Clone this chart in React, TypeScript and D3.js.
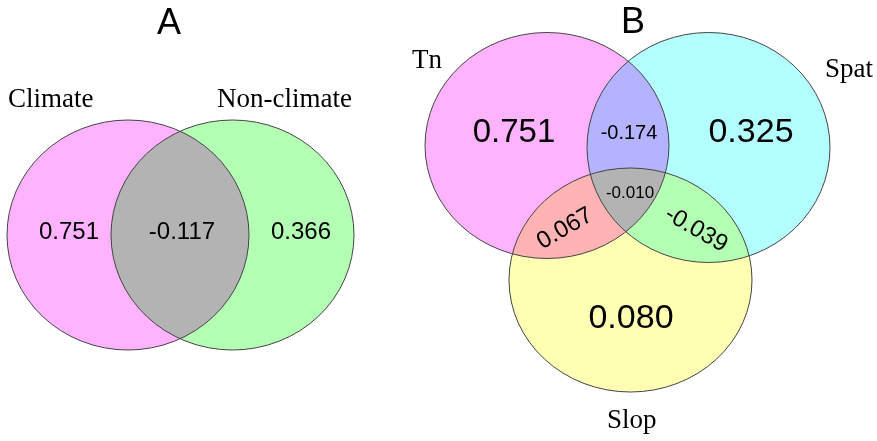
import React from "react";
import * as d3 from "d3";

// ---- data ----
const panelTitles = ["A", "B"];
const setsA = ["Climate", "Non-climate"];
const valuesA = [0.751, -0.117, 0.366]; // Climate only, both, Non-climate only
const setsB = ["Tn", "Spat", "Slop"];
const valuesB = [0.751, 0.325, 0.08, -0.174, 0.067, -0.039, -0.01]; // Tn, Spat, Slop, Tn∩Spat, Tn∩Slop, Spat∩Slop, all

// ---- layout (positions / styles) ----
const W = 877;
const H = 441;
const ellA = [
  { cx: 128, cy: 235, rx: 121, ry: 115, fill: "#ffb3ff" },
  { cx: 232.5, cy: 235, rx: 121.5, ry: 115, fill: "#b3ffb3" },
];
const ellB = [
  { cx: 547, cy: 145.5, rx: 122, ry: 113, fill: "#ffb3ff" },
  { cx: 708.5, cy: 147.5, rx: 121.5, ry: 115, fill: "#b3ffff" },
  { cx: 630.5, cy: 280, rx: 121.5, ry: 112, fill: "#ffffb3" },
];
const setLabelPosA = [
  { x: 8, y: 107 },
  { x: 217, y: 107 },
];
const setLabelPosB = [
  { x: 412, y: 68 },
  { x: 825, y: 77 },
  { x: 607, y: 428 },
];
const valPosA = [
  { x: 69, y: 239, size: 24, rot: 0, middle: false },
  { x: 182, y: 239, size: 24, rot: 0, middle: false },
  { x: 301, y: 239, size: 24, rot: 0, middle: false },
];
const valPosB = [
  { x: 514, y: 142, size: 33, rot: 0, middle: false },
  { x: 751, y: 142, size: 34, rot: 0, middle: false },
  { x: 631, y: 328, size: 34, rot: 0, middle: false },
  { x: 629, y: 139, size: 20, rot: 0, middle: false },
  { x: 564, y: 227, size: 24, rot: -30, middle: true },
  { x: 697, y: 228, size: 24, rot: 30, middle: true },
  { x: 630, y: 198, size: 17, rot: 0, middle: false },
];
const titlePos = [
  { x: 169, y: 34 },
  { x: 633, y: 33 },
];

const fmt3 = d3.format(".3f");
const fmt = (v: number) => fmt3(v).replace("\u2212", "-");
const SANS = "'Liberation Sans', Arial, sans-serif";
const SERIF = "'Liberation Serif', 'Times New Roman', serif";

function Ellipses({ ells }: { ells: typeof ellA }) {
  return (
    <g>
      <g style={{ isolation: "isolate" }}>
        {ells.map((e, i) => (
          <ellipse key={i} cx={e.cx} cy={e.cy} rx={e.rx} ry={e.ry} fill={e.fill} style={{ mixBlendMode: "multiply" }} />
        ))}
      </g>
      {ells.map((e, i) => (
        <ellipse key={"s" + i} cx={e.cx} cy={e.cy} rx={e.rx} ry={e.ry} fill="none" stroke="#444" strokeWidth={1} />
      ))}
    </g>
  );
}

function Values({ vals, pos }: { vals: number[]; pos: typeof valPosB }) {
  return (
    <g>
      {vals.map((v, i) => {
        const p = pos[i];
        return (
          <text
            key={i}
            x={0}
            y={0}
            transform={`translate(${p.x},${p.y}) rotate(${p.rot})`}
            textAnchor="middle"
            dominantBaseline={p.middle ? "central" : "auto"}
            fontFamily={SANS}
            fontSize={p.size}
            fill="#000"
          >
            {fmt(v)}
          </text>
        );
      })}
    </g>
  );
}

export default function App() {
  return (
    <svg width={W} height={H} style={{ position: "absolute", left: 0, top: 0, background: "#fff" }}>
      <rect width={W} height={H} fill="#fff" />
      <Ellipses ells={ellA} />
      <Ellipses ells={ellB} />
      {panelTitles.map((t, i) => (
        <text key={t} x={titlePos[i].x} y={titlePos[i].y} textAnchor="middle" fontFamily={SANS} fontSize={36} fill="#000">
          {t}
        </text>
      ))}
      {setsA.map((s, i) => (
        <text key={s} x={setLabelPosA[i].x} y={setLabelPosA[i].y} fontFamily={SERIF} fontSize={27} fill="#000">
          {s}
        </text>
      ))}
      {setsB.map((s, i) => (
        <text key={s} x={setLabelPosB[i].x} y={setLabelPosB[i].y} fontFamily={SERIF} fontSize={27} fill="#000">
          {s}
        </text>
      ))}
      <Values vals={valuesA} pos={valPosA} />
      <Values vals={valuesB} pos={valPosB} />
    </svg>
  );
}
